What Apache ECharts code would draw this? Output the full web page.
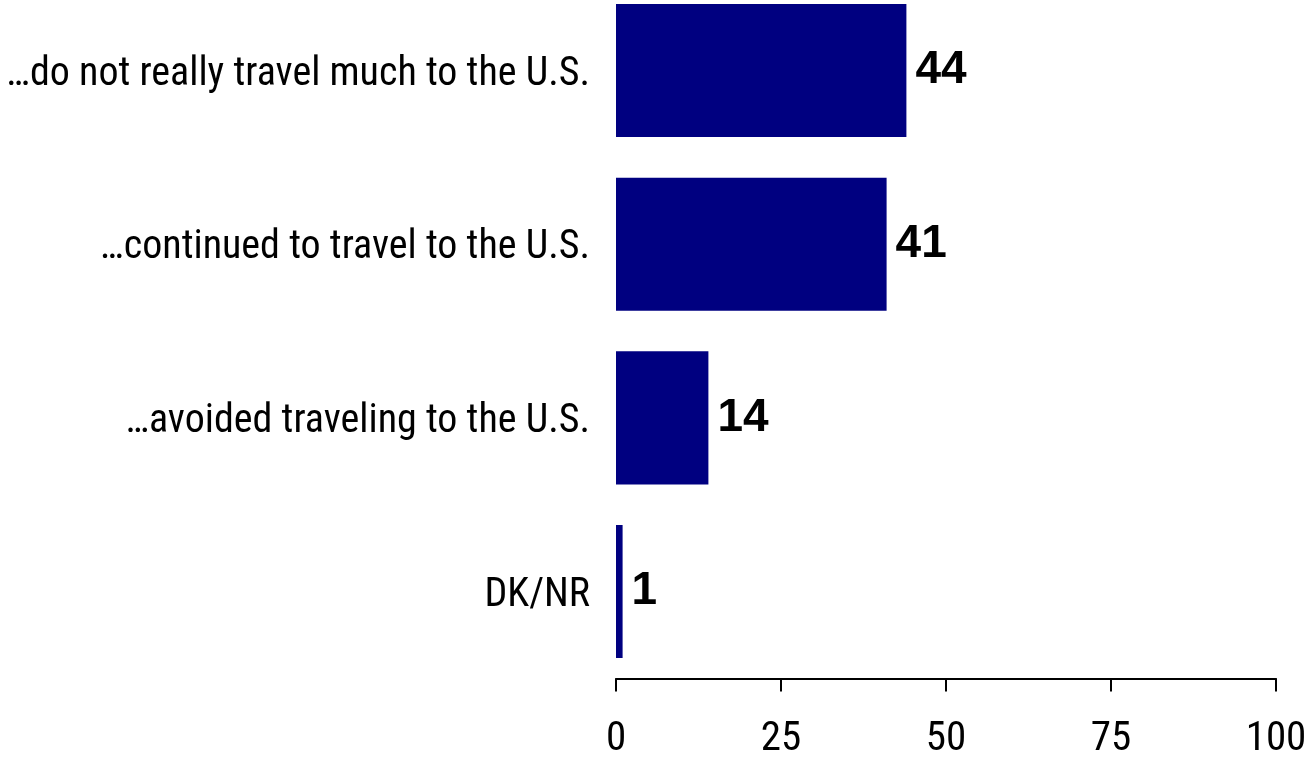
<!DOCTYPE html>
<html>
<head>
<meta charset="utf-8">
<script src="https://cdn.jsdelivr.net/npm/echarts@6/dist/echarts.min.js"></script>
<style>
html,body{margin:0;padding:0;background:#fff;}
#c{width:1307px;height:757px;}
</style>
</head>
<body>
<div id="c"></div>
<script>
const categories = [
  '\u2026do not really travel much to the U.S.',
  '\u2026continued to travel to the U.S.',
  '\u2026avoided traveling to the U.S.',
  'DK/NR'
];
const values = [44, 41, 14, 1];
const xTicks = [0, 25, 50, 75, 100];

const narrow = "'Roboto Condensed', 'Liberation Sans', sans-serif";
const chart = echarts.init(document.getElementById('c'));
chart.setOption({
  animation: false,
  backgroundColor: '#ffffff',
  grid: { left: 616, right: 31, top: -16.3, height: 694.7, containLabel: false, outerBoundsMode: 'none' },
  xAxis: {
    type: 'value',
    min: xTicks[0],
    max: xTicks[xTicks.length - 1],
    interval: 25,
    splitLine: { show: false },
    axisLine: { show: true, lineStyle: { color: '#000', width: 2 } },
    axisTick: { show: true, length: 13, lineStyle: { color: '#000', width: 2 } },
    axisLabel: { color: '#000', fontFamily: narrow, fontSize: 41, margin: 41 }
  },
  yAxis: {
    type: 'category',
    inverse: true,
    data: categories,
    axisLine: { show: false },
    axisTick: { show: false },
    axisLabel: {
      color: '#000', fontFamily: narrow, fontSize: 40, margin: 26,
      formatter: function (v) { return '{a|' + v + '}'; },
      rich: { a: { fontFamily: narrow, fontSize: 40, color: '#000', padding: [8, 0, 0, 0] } }
    }
  },
  series: [{
    type: 'bar',
    data: values,
    barCategoryGap: '23.4%',
    itemStyle: { color: '#000080' },
    label: {
      show: true,
      position: 'right',
      distance: 9,
      color: '#000',
      fontFamily: "'Liberation Sans', Arial, sans-serif",
      fontWeight: 'bold',
      fontSize: 46
    }
  }]
});
</script>
</body>
</html>
